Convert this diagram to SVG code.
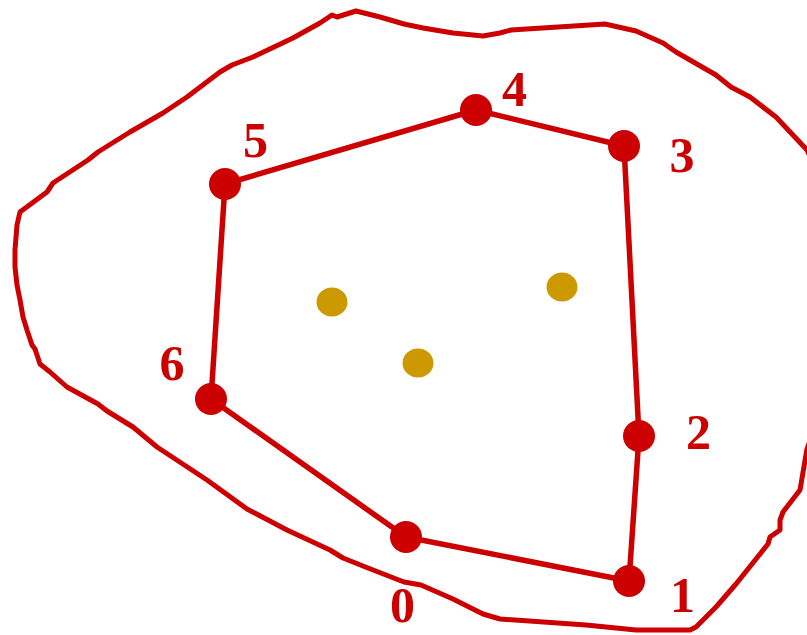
<svg xmlns="http://www.w3.org/2000/svg" width="807" height="635" viewBox="0 0 807 635">
<style>
.blob{fill:none;stroke:#CC0000;stroke-width:5;stroke-linejoin:round;stroke-linecap:round}
.edge{fill:none;stroke:#CC0000;stroke-width:5.5;stroke-linecap:round}
.node{fill:#CC0000}
.pt{fill:#CC9900}
.lbl{font-family:"Liberation Serif","Times New Roman",serif;font-weight:bold;font-size:50px;fill:#CC0000;text-anchor:middle}
</style>
<rect width="807" height="635" fill="#FFFFFF"/>
<g id="region">
<path class="blob" d="M356,11 L380,17 L404,24 L423,28 L453,33 L483,36 L500,33 L511,30 L605,24 L636,31 L663,43 L676,52 L716,75 L731,87 L750,97 L776,117 L807,150 L825,190 L825,400 L807,449 L800,490 L783,512 L780,520 L780,530 L770,537 L768,544 L736,584 L716,607 L696,627 L690,630 L636,630 L586,625 L500,619 L483,614 L453,599 L421,585 L404,582 L368,568 L343,558 L330,550 L287,530 L247,509 L207,480 L157,447 L133,427 L107,411 L98,404 L67,387 L50,372 L40,364 L35,349 L32,345 L27,330 L23,317 L20,300 L17,285 L15,267 L15,250 L17,225 L20,212 L47,192 L53,183 L88,160 L98,152 L130,132 L163,113 L187,97 L220,72 L232,65 L253,57 L293,38 L320,23 L332,15 L337,17 Z"/>
</g>
<g id="connectors">
<line class="edge" x1="406" y1="537" x2="629" y2="581"/>
<line class="edge" x1="629" y1="581" x2="639" y2="436"/>
<line class="edge" x1="639" y1="436" x2="624" y2="146"/>
<line class="edge" x1="624" y1="146" x2="476" y2="110"/>
<line class="edge" x1="476" y1="110" x2="225" y2="184"/>
<line class="edge" x1="225" y1="184" x2="211" y2="399"/>
<line class="edge" x1="211" y1="399" x2="406" y2="537"/>
</g>
<g id="node0"><circle class="node" cx="406" cy="537" r="16"/><text class="lbl" x="402.5" y="622">0</text></g>
<g id="node1"><circle class="node" cx="629" cy="581" r="16"/><text class="lbl" x="682.5" y="612">1</text></g>
<g id="node2"><circle class="node" cx="639" cy="436" r="16"/><text class="lbl" x="698.5" y="449">2</text></g>
<g id="node3"><circle class="node" cx="624" cy="146" r="16"/><text class="lbl" x="682" y="172">3</text></g>
<g id="node4"><circle class="node" cx="476" cy="110" r="16"/><text class="lbl" x="514.5" y="106">4</text></g>
<g id="node5"><circle class="node" cx="225" cy="184" r="16"/><text class="lbl" x="255.5" y="157">5</text></g>
<g id="node6"><circle class="node" cx="211" cy="399" r="16"/><text class="lbl" x="172" y="380">6</text></g>
<g id="points">
<ellipse class="pt" cx="332" cy="302" rx="15.5" ry="14.5"/>
<ellipse class="pt" cx="562" cy="287" rx="15.5" ry="14.5"/>
<ellipse class="pt" cx="418" cy="363" rx="15.5" ry="14.5"/>
</g>
</svg>
